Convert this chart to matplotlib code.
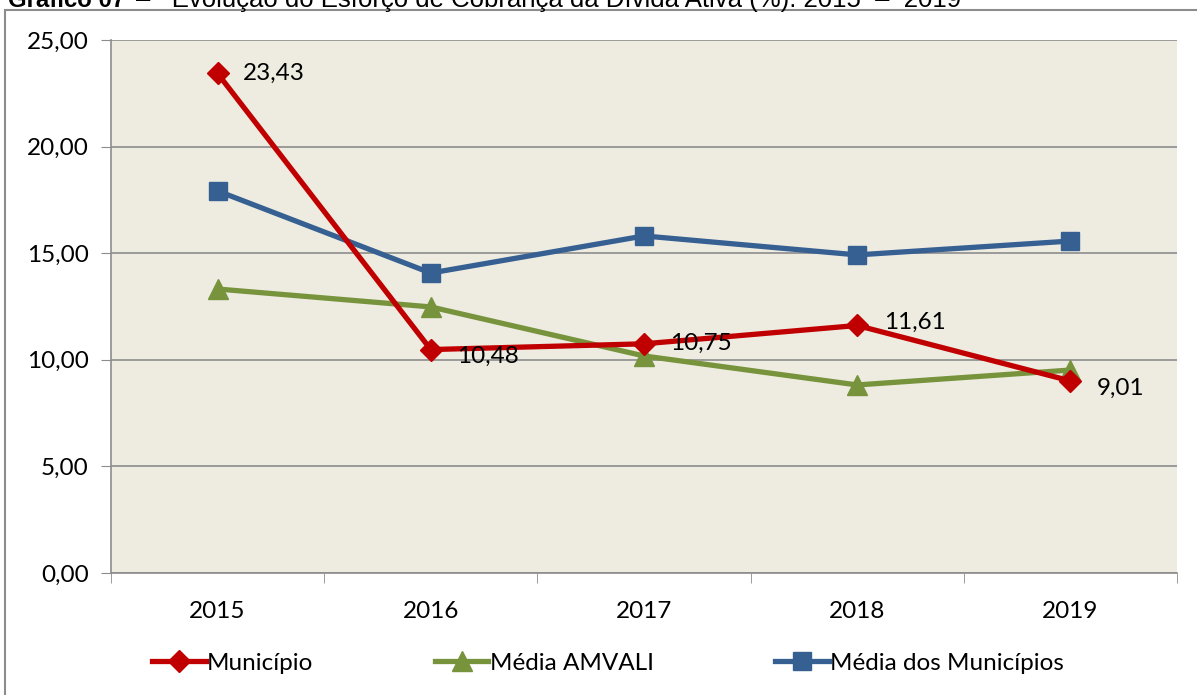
import matplotlib
matplotlib.use("Agg")
import matplotlib.pyplot as plt
from matplotlib.lines import Line2D
from matplotlib.patches import Rectangle

years = ["2015", "2016", "2017", "2018", "2019"]
municipio = [23.43, 10.48, 10.75, 11.61, 9.01]
media_amvali = [13.32, 12.48, 10.18, 8.82, 9.52]
media_municipios = [17.92, 14.07, 15.81, 14.92, 15.57]
labels_municipio = ["23,43", "10,48", "10,75", "11,61", "9,01"]
yticks = [0, 5, 10, 15, 20, 25]
ytick_labels = ["0,00", "5,00", "10,00", "15,00", "20,00", "25,00"]

RED = "#C00000"
GREEN = "#77933C"
BLUE = "#376092"
BG = "#EEECE1"
GRID = "#8C8C8C"

plt.rcParams['font.family'] = ['Lato', 'DejaVu Sans']
FS = 17.5

W, H = 1197, 695
fig = plt.figure(figsize=(W / 100, H / 100), dpi=100)

# outer frame
fig.patches.append(Rectangle((5 / W, -0.1), 1.2, (H - 10) / H + 0.1, transform=fig.transFigure,
                             fill=False, edgecolor="#8C8C8C", linewidth=1.5))

# title (cut off at top, as in the source)
fig.text(8 / W, 1 - 7 / H, "Gráfico 07", fontsize=17.3, fontweight="bold",
         family="Liberation Sans", va="baseline", ha="left")
fig.text(136 / W, 1 - 7 / H, "–   Evolução do Esforço de Cobrança da Dívida Ativa (%): 2015  –  2019",
         fontsize=18.5, family="Liberation Sans", va="baseline", ha="left")

ax = fig.add_axes([111 / W, 1 - 573 / H, (1177 - 111) / W, (573 - 40) / H])
ax.set_facecolor(BG)
x = list(range(len(years)))

ax.set_xlim(-0.5, 4.5)
ax.set_ylim(0, 25)
ax.set_yticks(yticks)
ax.set_yticklabels(ytick_labels, fontsize=FS)
ax.yaxis.grid(True, color=GRID, linewidth=1.2)
ax.set_axisbelow(True)
ax.set_xticks(x)
ax.set_xticklabels(years, fontsize=FS)
ax.set_xticks([i - 0.5 for i in range(len(years) + 1)], minor=True)
ax.tick_params(axis="x", which="major", length=0, pad=20)
ax.tick_params(axis="x", which="minor", length=7, color=GRID, direction="out")
ax.tick_params(axis="y", length=7, color=GRID, direction="out", pad=9)
for s in ["top", "right"]:
    ax.spines[s].set_visible(False)
for s in ["left", "bottom"]:
    ax.spines[s].set_color(GRID)
    ax.spines[s].set_linewidth(1.2)

lw = 3.8
ax.plot(x, media_municipios, color=BLUE, linewidth=lw, marker="s", markersize=13, zorder=3)
ax.plot(x, media_amvali, color=GREEN, linewidth=lw, marker="^", markersize=15, zorder=4)
ax.plot(x, municipio, color=RED, linewidth=lw, marker="D", markersize=11, zorder=5)

offsets = [(18, 0), (19, -5), (19, 0), (19, 2), (19, -5)]
for xi, yi, lab, off in zip(x, municipio, labels_municipio, offsets):
    ax.annotate(lab, (xi, yi), xytext=off, textcoords="offset points",
                fontsize=FS, ha="left", va="center", zorder=6)

handles = [
    Line2D([], [], color=RED, linewidth=lw, marker="D", markersize=11),
    Line2D([], [], color=GREEN, linewidth=lw, marker="^", markersize=15),
    Line2D([], [], color=BLUE, linewidth=lw, marker="s", markersize=13),
]
fig.legend(handles, ["Município", "Média AMVALI", "Média dos Municípios"],
           loc="center", bbox_to_anchor=(608 / W, 1 - 663 / H), ncol=3, frameon=False,
           fontsize=FS, handlelength=2.2, handletextpad=0.05, columnspacing=5.0)

fig.savefig("out.png", dpi=100)
